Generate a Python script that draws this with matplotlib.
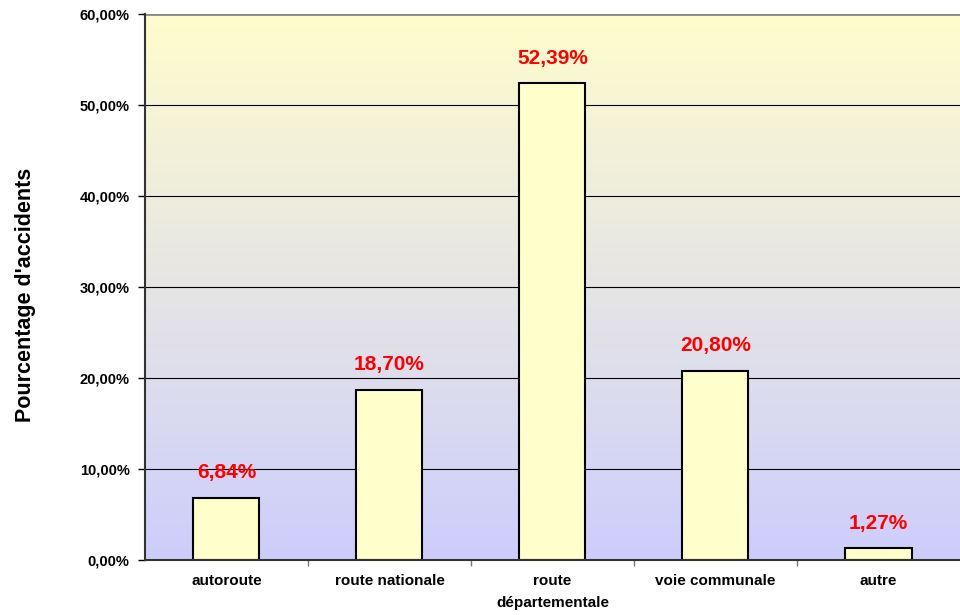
#!/usr/bin/env python3

import matplotlib
matplotlib.use('agg')
import matplotlib.pyplot as plot
import numpy as np
from matplotlib.colors import LinearSegmentedColormap
from matplotlib.ticker import FuncFormatter, MultipleLocator, FixedLocator

categories = ['autoroute', 'route nationale', 'route\ndépartementale', 'voie communale', 'autre']
values = [6.84, 18.70, 52.39, 20.80, 1.27]
value_labels = ['6,84%', '18,70%', '52,39%', '20,80%', '1,27%']

plot.rcParams['font.family'] = ['Liberation Sans', 'DejaVu Sans']

figure = plot.figure(figsize=(9.6, 6.15), dpi=100)
axis = figure.add_axes([0.151, 0.0894, 0.849, 0.888])

index = np.arange(len(categories))
axis.set_xlim(-0.5, len(categories) - 0.5)
axis.set_ylim(0, 60)

# background gradient, yellow at top to lavender at bottom
background = LinearSegmentedColormap.from_list('bg', ['#cdcdfd', '#fffdcc'])
gradient = np.linspace(0, 1, 256).reshape(-1, 1)
axis.imshow(gradient, aspect='auto', cmap=background, origin='lower',
            extent=(-0.5, len(categories) - 0.5, 0, 60), zorder=0)

for y in range(10, 60, 10):
    axis.axhline(y, color='black', linewidth=0.8, zorder=1)
axis.axhline(60, color='#888888', linewidth=2, zorder=1)

axis.bar(index, values, 0.405, color='#ffffcc', edgecolor='black', linewidth=1.5, zorder=2)

for x, v, label in zip(index, values, value_labels):
    axis.text(x, v + 1.7, label, ha='center', va='bottom', color='red',
              fontsize=15, fontweight='bold', zorder=3)

axis.yaxis.set_major_locator(MultipleLocator(10))
axis.yaxis.set_major_formatter(FuncFormatter(lambda v, p: '{:.2f}%'.format(v).replace('.', ',')))
axis.set_xticks(index)
axis.set_xticklabels(categories, fontsize=11, fontweight='bold', linespacing=1.75)
axis.xaxis.set_minor_locator(FixedLocator(index[:-1] + 0.5))
axis.tick_params(axis='x', which='major', length=0, pad=10)
axis.tick_params(axis='x', which='minor', length=4, width=1, color='#777777')
axis.tick_params(axis='y', length=5, width=1, labelsize=10.5, pad=6)
for label in axis.get_yticklabels():
    label.set_fontweight('bold')

axis.spines['top'].set_visible(False)
axis.spines['right'].set_visible(False)
axis.spines['left'].set_linewidth(1.5)
axis.spines['left'].set_color('#333333')
axis.spines['bottom'].set_linewidth(1.5)
axis.spines['bottom'].set_color('#333333')

figure.text(0.027, 0.52, "Pourcentage d'accidents", rotation=90, ha='center', va='center',
            fontsize=15.5, fontweight='bold')

figure.savefig('out.png', dpi=100)
